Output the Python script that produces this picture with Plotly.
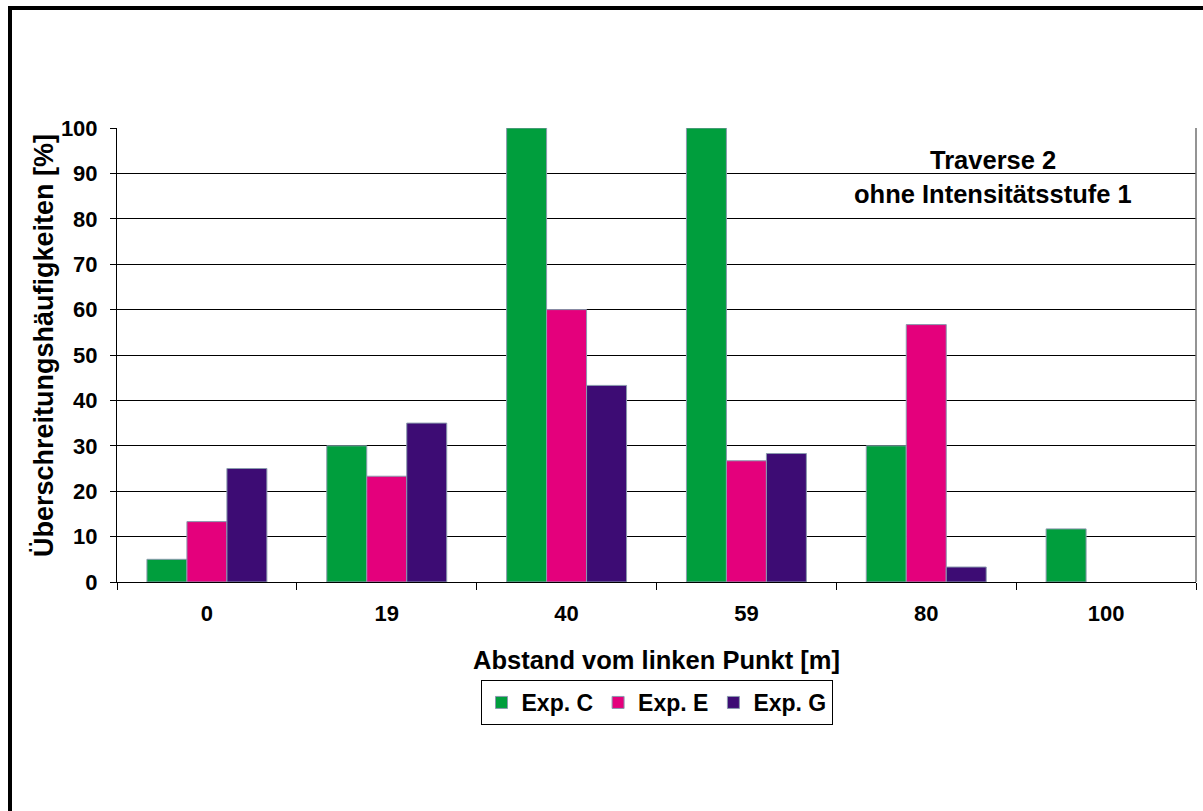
import plotly.graph_objects as go

categories = ["0", "19", "40", "59", "80", "100"]
exp_c = [5, 30, 100, 100, 30, 11.7]
exp_e = [13.3, 23.3, 60, 26.7, 56.7, 0]
exp_g = [25, 35, 43.3, 28.3, 3.3, 0]
series_names = ["Exp. C", "Exp. E", "Exp. G"]
colors = ["#009E3D", "#E4007C", "#3D0C74"]
y_ticks = list(range(0, 101, 10))

FONT = "Arial, 'Liberation Sans', sans-serif"

fig = go.Figure()
for name, vals, col in zip(series_names, [exp_c, exp_e, exp_g], colors):
    fig.add_trace(go.Bar(
        x=categories, y=vals, name=name,
        marker=dict(color=col,
                    line=dict(color="#8a9aae",
                              width=[1 if v > 0 else 0 for v in vals])),
    ))

# Plot area geometry in pixels
W, H = 1203, 811
L, R, T, B = 117, 1196, 128, 582
pw, ph = R - L, B - T

def px(x):
    return (x - L) / pw

def py(y):
    return (B - y) / ph

fig.update_layout(
    width=W, height=H,
    margin=dict(l=L, r=W - R, t=T, b=H - B),
    paper_bgcolor="white", plot_bgcolor="white",
    barmode="group", bargap=0.333, bargroupgap=0,
    font=dict(family=FONT, color="black", size=22, weight="bold"),
    showlegend=True,
    legend=dict(
        orientation="h", x=0.5, xanchor="center", y=py(680), yanchor="top",
        bordercolor="black", borderwidth=1, bgcolor="white",
        font=dict(size=23, family=FONT, weight="bold"),
        itemwidth=30, tracegroupgap=0,
    ),
    xaxis=dict(
        type="category", showline=True, linecolor="black", linewidth=1,
        ticks="outside", tickson="boundaries", ticklen=7, tickcolor="black",
        tickfont=dict(size=22, family=FONT, weight="bold"),
        ticklabelstandoff=12, layer="above traces",
        showgrid=False,
        title=dict(text="Abstand vom linken Punkt [m]",
                   font=dict(size=25.5, family=FONT, weight="bold"), standoff=25),
    ),
    yaxis=dict(
        range=[0, 100], tickvals=y_ticks, showline=True, linecolor="black",
        linewidth=1, ticks="outside", ticklen=6, tickcolor="black",
        tickfont=dict(size=22, family=FONT, weight="bold"),
        ticklabelstandoff=8, layer="above traces",
        showgrid=True, gridcolor="black", gridwidth=1, zeroline=False,
    ),
    annotations=[
        dict(text="Überschreitungshäufigkeiten [%]", x=px(44), y=py(346),
             xref="paper", yref="paper", textangle=-90, showarrow=False,
             font=dict(size=27, family=FONT, weight="bold"),
             xanchor="center", yanchor="middle"),
        dict(text="Traverse 2", x=px(993), y=py(160), xref="paper", yref="paper",
             showarrow=False, font=dict(size=25.5, family=FONT, weight="bold"),
             xanchor="center", yanchor="middle"),
        dict(text="ohne Intensitätsstufe 1", x=px(993), y=py(194), xref="paper", yref="paper",
             showarrow=False, font=dict(size=25.5, family=FONT, weight="bold"),
             xanchor="center", yanchor="middle"),
    ],
    shapes=[
        # right border of plot area
        dict(type="line", xref="paper", yref="paper", x0=1, x1=1, y0=0, y1=1,
             line=dict(color="#707070", width=1.5)),
        # outer frame: left and top
        dict(type="line", xref="paper", yref="paper", x0=px(10), x1=px(10),
             y0=py(815), y1=py(6), line=dict(color="black", width=4)),
        dict(type="line", xref="paper", yref="paper", x0=px(8), x1=px(1210),
             y0=py(8), y1=py(8), line=dict(color="black", width=4)),
    ],
)

fig.write_html("out.html", config={"displayModeBar": False},
               post_script="document.body.style.margin='0px';")
